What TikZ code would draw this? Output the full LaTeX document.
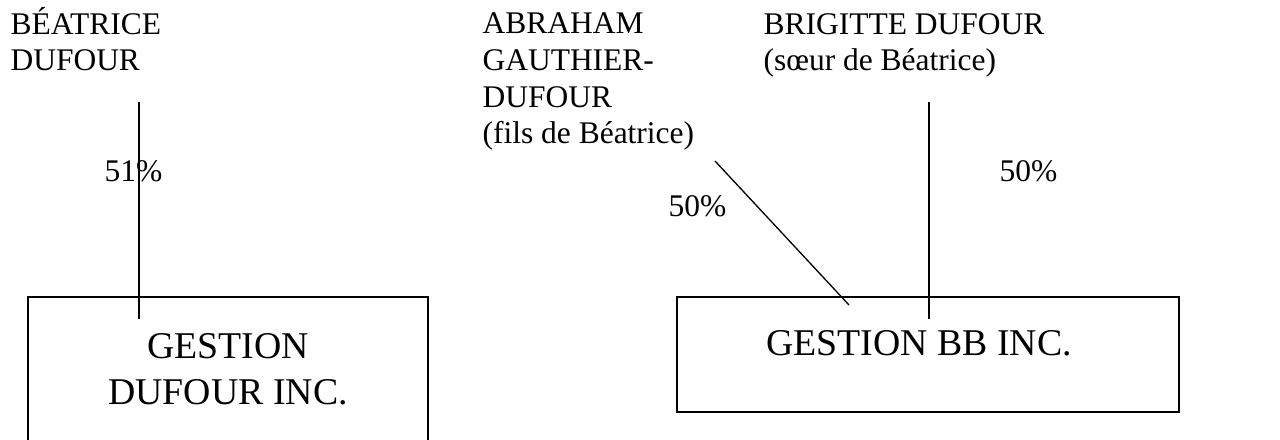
\documentclass[tikz,border=0pt]{standalone}
\usepackage{fontspec}
\setmainfont{Liberation Serif}
\begin{document}
\begin{tikzpicture}[x=0.381pt,y=-0.381pt,
    holder/.style={anchor=base west,inner sep=0pt,align=left,font=\fontsize{12}{14}\selectfont},
    pct/.style={anchor=base west,inner sep=0pt,font=\fontsize{12}{14}\selectfont},
    company/.style={draw,line width=0.8pt,inner sep=0pt,align=center,font=\fontsize{14.4}{17.5}\selectfont},
    link/.style={line width=0.5pt}]
  \useasboundingbox (0,0) rectangle (1280,440);

  % Shareholders (placed at the baseline of their last line)
  \node[holder] (beatrice) at (10,71) {BÉATRICE\\DUFOUR};
  \node[holder] (abraham) at (482,144) {ABRAHAM\\GAUTHIER-\\DUFOUR\\(fils de Béatrice)};
  \node[holder] (brigitte) at (763,71) {BRIGITTE DUFOUR\\(sœur de Béatrice)};

  % Holding companies (left box runs off the bottom edge)
  \node[company,minimum width=152.4pt,minimum height=55.2pt] (gdufour) at (228,369.5) {GESTION\\DUFOUR INC.};
  \node[company,minimum width=191.3pt,minimum height=43.8pt] (gbb) at (928,354.5) {};
  \node[pct,anchor=base,font=\fontsize{14.4}{17.5}\selectfont] (gbbname) at (919,355) {GESTION BB INC.};

  % Ownership lines, ending inside the boxes
  \coordinate (beatrice-in) at (139,102);
  \coordinate (beatrice-out) at (139,319);
  \coordinate (abraham-in) at (715,161);
  \coordinate (abraham-out) at (849,305);
  \coordinate (brigitte-in) at (929,102);
  \coordinate (brigitte-out) at (929,319);
  \draw[link] (beatrice-in) -- (beatrice-out);
  \draw[link] (abraham-in) -- (abraham-out);
  \draw[link] (brigitte-in) -- (brigitte-out);

  % Percentages
  \node[pct] (p51) at (104,182) {51\%};
  \node[pct] (p50a) at (668,217) {50\%};
  \node[pct] (p50b) at (999,182) {50\%};
\end{tikzpicture}
\end{document}
